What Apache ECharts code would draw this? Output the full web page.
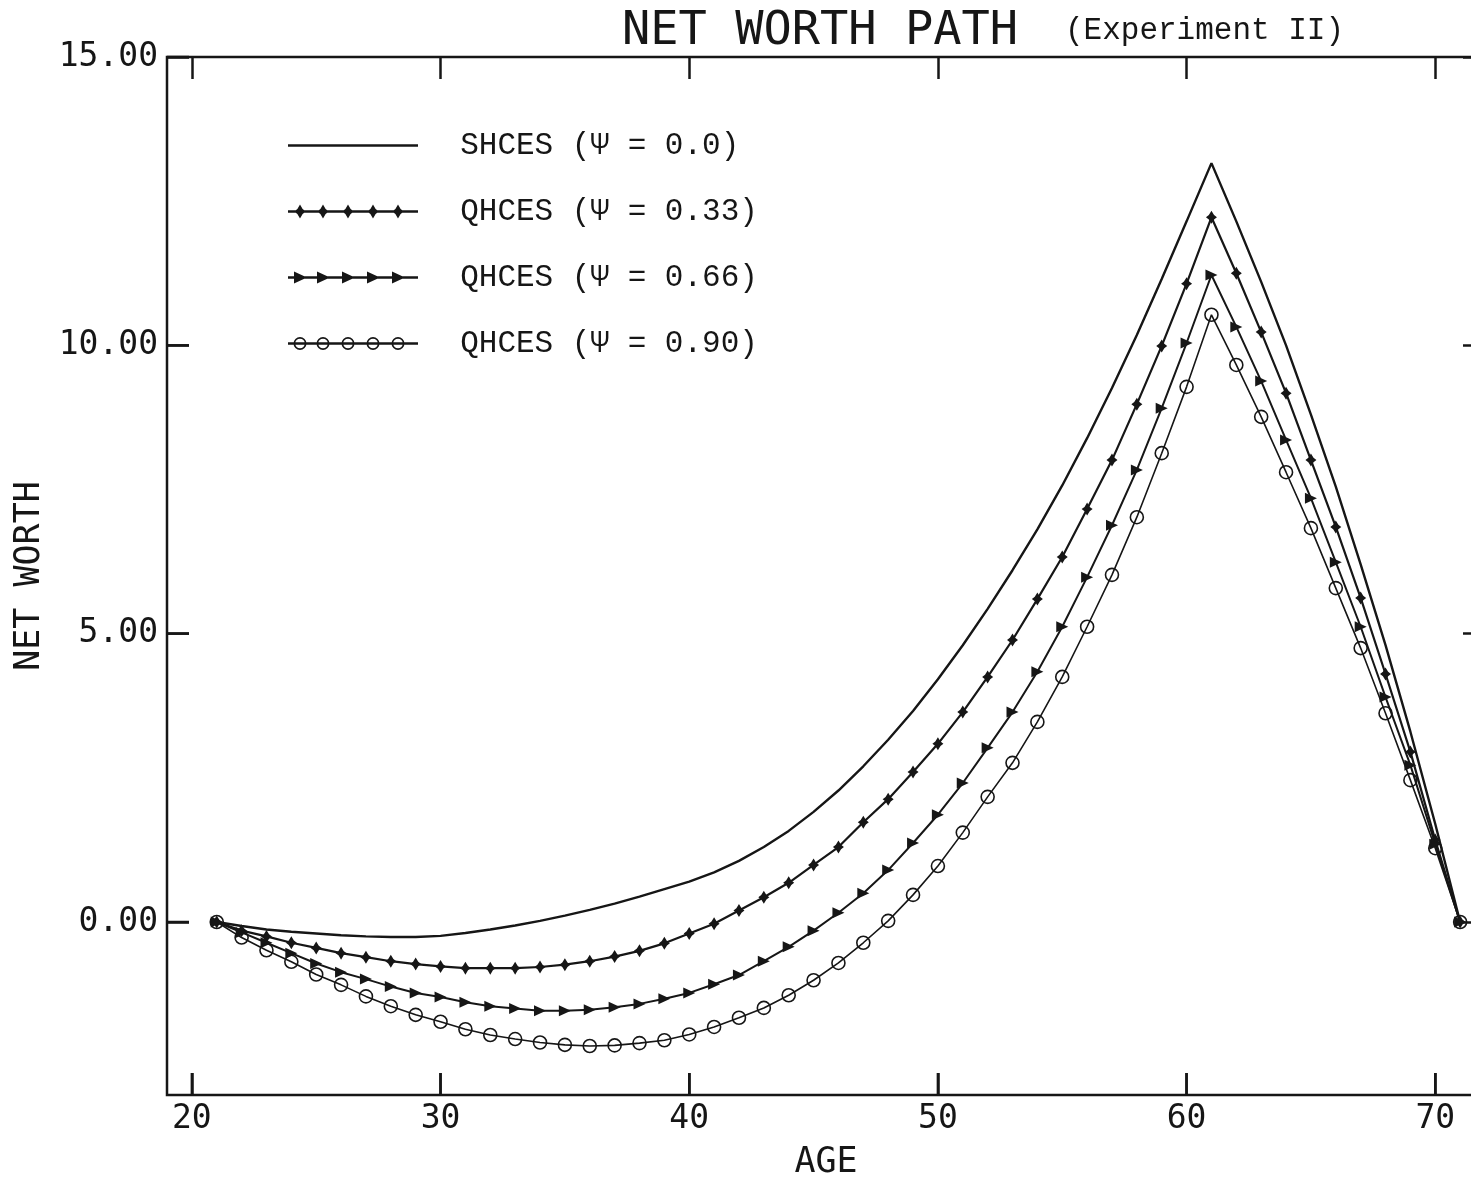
<!DOCTYPE html>
<html>
<head>
<meta charset="utf-8">
<title>Net Worth Path</title>
<script src="https://cdn.jsdelivr.net/npm/echarts@6.0.0/dist/echarts.min.js"></script>
<style>
  html, body { margin: 0; padding: 0; background: #fff; }
  #main { width: 1471px; height: 1184px; }
</style>
</head>
<body>
<div id="main"></div>
<script>
// age axis (one point per year)
const ages = [21,22,23,24,25,26,27,28,29,30,31,32,33,34,35,36,37,38,39,40,
  41,42,43,44,45,46,47,48,49,50,51,52,53,54,55,56,57,58,59,60,
  61,62,63,64,65,66,67,68,69,70,71]

// SHCES (psi = 0.0)
const shces = [0,-0.07,-0.13,-0.17,-0.20,-0.23,-0.25,-0.26,-0.26,-0.24,
  -0.19,-0.13,-0.06,0.02,0.11,0.21,0.32,0.44,0.57,0.70,
  0.86,1.06,1.30,1.58,1.91,2.28,2.70,3.16,3.66,4.21,
  4.80,5.43,6.10,6.81,7.57,8.39,9.26,10.18,11.15,12.15,
  13.16,12.15,11.10,10.00,8.80,7.55,6.20,4.80,3.30,1.70,0]

// QHCES (psi = 0.33)
const qhces33 = [0,-0.15,-0.25,-0.36,-0.45,-0.54,-0.61,-0.68,-0.73,-0.77,
  -0.80,-0.80,-0.80,-0.78,-0.74,-0.68,-0.60,-0.50,-0.37,-0.20,
  -0.03,0.20,0.43,0.68,0.99,1.30,1.73,2.13,2.60,3.09,
  3.64,4.25,4.89,5.60,6.33,7.16,8.01,8.98,9.99,11.07,
  12.22,11.25,10.23,9.17,8.01,6.85,5.62,4.30,2.95,1.42,0]

// QHCES (psi = 0.66)
const qhces66 = [0,-0.18,-0.36,-0.54,-0.72,-0.87,-0.99,-1.12,-1.23,-1.30,
  -1.39,-1.46,-1.50,-1.54,-1.54,-1.52,-1.48,-1.42,-1.33,-1.23,
  -1.08,-0.92,-0.68,-0.43,-0.15,0.16,0.50,0.90,1.37,1.86,
  2.41,3.02,3.64,4.34,5.12,5.98,6.88,7.84,8.91,10.04,
  11.22,10.32,9.38,8.36,7.35,6.24,5.12,3.90,2.72,1.35,0]

// QHCES (psi = 0.90)
const qhces90 = [0,-0.27,-0.49,-0.69,-0.91,-1.09,-1.29,-1.46,-1.61,-1.73,
  -1.86,-1.96,-2.03,-2.09,-2.13,-2.15,-2.14,-2.10,-2.05,-1.95,
  -1.82,-1.66,-1.49,-1.27,-1.01,-0.71,-0.36,0.02,0.47,0.97,
  1.55,2.17,2.76,3.47,4.25,5.12,6.02,7.02,8.13,9.28,
  10.53,9.66,8.76,7.80,6.83,5.79,4.75,3.62,2.46,1.28,0]

const seriesNames = ['SHCES (Ψ = 0.0)', 'QHCES (Ψ = 0.33)', 'QHCES (Ψ = 0.66)', 'QHCES (Ψ = 0.90)']
const xTicks = [20, 30, 40, 50, 60, 70]
const yTicks = [0, 5, 10, 15]
const xMin = 19, xMax = 72, yMin = -3, yMax = 15

const ink = '#161616'
const plotFont = 'DejaVu Sans Mono'
const typeFont = 'Liberation Mono'
const tickLen = 22

const pairs = (vals) => ages.map((a, i) => [a, vals[i]])

// legend icons: a line with five markers on it
const markerX = [12, 35, 60, 85, 110]
const lineRect = 'M0,8.8 L130,8.8 L130,11.2 L0,11.2 Z'
const starAt = (c) => `M${c-6},10 L${c-2.6},7.4 L${c},3 L${c+2.6},7.4 L${c+6},10 L${c+2.6},12.6 L${c},17 L${c-2.6},12.6 Z`
const triAt = (c) => `M${c-6},4 L${c+7},10 L${c-6},16 Z`
const ringAt = (c) => `M${c-6.5},10 A6.5,6.5 0 1,1 ${c+6.5},10 A6.5,6.5 0 1,1 ${c-6.5},10 Z ` +
  `M${c-4.8},10 A4.8,4.8 0 1,0 ${c+4.8},10 A4.8,4.8 0 1,0 ${c-4.8},10 Z`
const icons = [
  'path://' + lineRect,
  'path://' + lineRect + ' ' + markerX.map(starAt).join(' '),
  'path://' + lineRect + ' ' + markerX.map(triAt).join(' '),
  'path://' + lineRect + ' ' + markerX.map(ringAt).join(' ')
]

const chart = echarts.init(document.getElementById('main'))

// ticks point into the frame
const makeTick = (values) => ({
  show: true, inside: true, length: tickLen, customValues: values,
  lineStyle: { color: ink, width: 2.5, type: 'solid' }
})

// bottom / left inner ticks, placed through the axes' own scales
const bottomTicks = (params, api) => {
  const p = api.coord([api.value(0), yMin])
  return { type: 'line', shape: { x1: p[0], y1: p[1], x2: p[0], y2: p[1] - tickLen },
    style: { stroke: ink, lineWidth: 2.5 } }
}
const leftTicks = (params, api) => {
  const p = api.coord([xMin, api.value(1)])
  return { type: 'line', shape: { x1: p[0], y1: p[1], x2: p[0] + tickLen, y2: p[1] },
    style: { stroke: ink, lineWidth: 2.5 } }
}

const option = {
  backgroundColor: '#fff',
  animation: false,
  title: [
    { text: 'NET WORTH PATH', left: 622, top: 8, padding: 0,
      textStyle: { fontFamily: plotFont, fontSize: 47, fontWeight: 'normal', color: ink } },
    { text: '(Experiment II)', left: 1065, top: 15, padding: 0,
      textStyle: { fontFamily: typeFont, fontSize: 31, fontWeight: 'normal', color: ink } }
  ],
  // axis titles
  graphic: [
    { type: 'text', x: 826, y: 1163,
      style: { text: 'AGE', fontFamily: plotFont, fontSize: 35, fill: ink, align: 'center', verticalAlign: 'middle' } },
    { type: 'text', x: 30, y: 576, rotation: Math.PI / 2,
      style: { text: 'NET WORTH', fontFamily: plotFont, fontSize: 35, fill: ink, align: 'center', verticalAlign: 'middle' } }
  ],
  legend: {
    orient: 'vertical',
    left: 288,
    top: 130,
    padding: 0,
    itemWidth: 130,
    itemHeight: 20,
    itemGap: 35,
    selectedMode: false,
    symbolKeepAspect: true,
    formatter: (name) => '  ' + name,
    textStyle: { fontFamily: typeFont, fontSize: 31, color: ink },
    data: seriesNames.map((n, i) => ({
      name: n,
      icon: icons[i],
      itemStyle: { color: ink, borderWidth: 0, borderColor: ink }
    }))
  },
  grid: {
    left: 167, right: -14, top: 57, bottom: 89,
    outerBoundsMode: 'none',
    show: true, borderColor: ink, borderWidth: 2.5
  },
  xAxis: [
    {
      type: 'value', min: xMin, max: xMax,
      axisLine: { show: false, onZero: false },
      axisTick: makeTick(xTicks),
      axisLabel: { customValues: xTicks, margin: 8, fontFamily: plotFont, fontSize: 33, color: ink },
      splitLine: { show: false }
    },
    {
      type: 'value', min: xMin, max: xMax, position: 'top',
      axisLine: { show: false, onZero: false },
      axisTick: makeTick(xTicks),
      axisLabel: { show: false },
      splitLine: { show: false }
    }
  ],
  yAxis: [
    {
      type: 'value', min: yMin, max: yMax,
      axisLine: { show: false, onZero: false },
      axisTick: makeTick(yTicks),
      axisLabel: {
        customValues: yTicks, margin: 9, fontFamily: plotFont, fontSize: 33, color: ink,
        formatter: (v) => v.toFixed(2)
      },
      splitLine: { show: false }
    },
    {
      type: 'value', min: yMin, max: yMax, position: 'right',
      axisLine: { show: false, onZero: false },
      axisTick: makeTick(yTicks),
      axisLabel: { show: false },
      splitLine: { show: false }
    }
  ],
  series: [
    {
      name: seriesNames[0], type: 'line', data: pairs(shces),
      symbol: 'none',
      lineStyle: { color: ink, width: 2.4 },
      itemStyle: { color: ink }
    },
    {
      name: seriesNames[1], type: 'line', data: pairs(qhces33),
      symbol: 'path://M0,-7 L2.6,-2.4 L5.5,0 L2.6,2.4 L0,7 L-2.6,2.4 L-5.5,0 L-2.6,-2.4 Z',
      symbolSize: [11, 13],
      lineStyle: { color: ink, width: 2.2 },
      itemStyle: { color: ink }
    },
    {
      name: seriesNames[2], type: 'line', data: pairs(qhces66),
      symbol: 'path://M0,0 L12,5 L0,10 Z',
      symbolSize: [12, 11],
      lineStyle: { color: ink, width: 2 },
      itemStyle: { color: ink }
    },
    {
      name: seriesNames[3], type: 'line', data: pairs(qhces90),
      symbol: 'circle',
      symbolSize: 13,
      lineStyle: { color: ink, width: 1.6 },
      itemStyle: { color: 'rgba(255,255,255,0)', borderColor: ink, borderWidth: 1.6 }
    },
    {
      name: 'bottom ticks', type: 'custom', silent: true, clip: false,
      data: xTicks.map((v) => [v, yMin]),
      renderItem: bottomTicks
    },
    {
      name: 'left ticks', type: 'custom', silent: true, clip: false,
      data: yTicks.map((v) => [xMin, v]),
      renderItem: leftTicks
    }
  ]
}

chart.setOption(option)
</script>
</body>
</html>
